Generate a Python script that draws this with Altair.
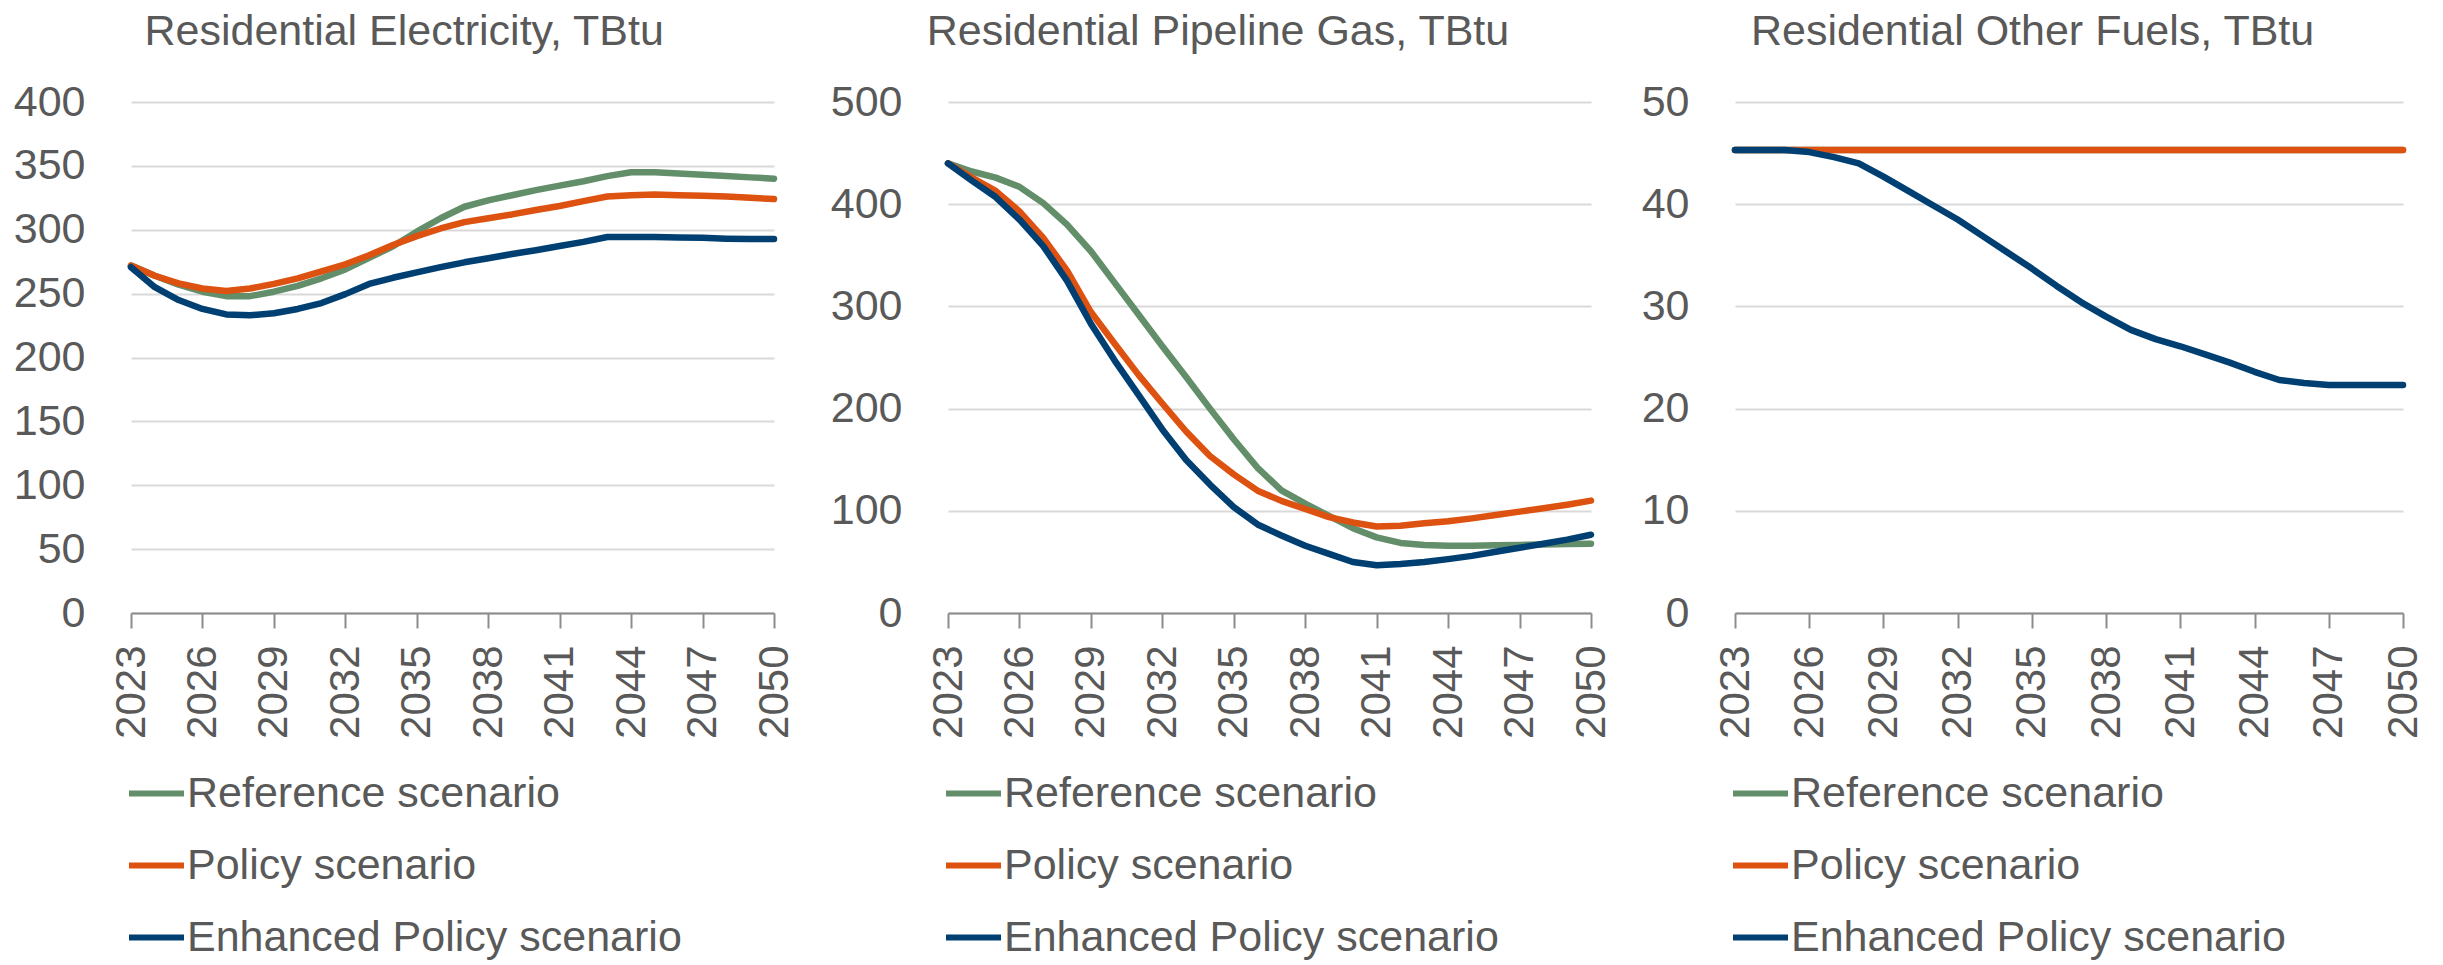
import altair as alt
import pandas as pd

FONT = "Liberation Sans"
TEXT_COLOR = "#595959"
AXIS_COLOR = "#8c8c8c"
GRID_COLOR = "#d9d9d9"

years = list(range(2023, 2051))
tick_years = [2023, 2026, 2029, 2032, 2035, 2038, 2041, 2044, 2047, 2050]
scenarios = ["Reference scenario", "Policy scenario", "Enhanced Policy scenario"]
colors = ["#638E6A", "#DD5210", "#003F72"]

titles = ["Residential Electricity, TBtu", "Residential Pipeline Gas, TBtu", "Residential Other Fuels, TBtu"]

elec_ref = [272, 264, 257, 251.5, 248, 248, 251.5, 256, 262, 269, 278, 287, 298.5, 309,
            318, 323, 327, 331, 334.5, 338, 342, 345, 345, 344, 343, 342, 341, 340]
elec_pol = [272, 264, 258, 254, 252, 254, 257.6, 262, 267.5, 273, 280, 288, 295, 301,
            306, 309, 312, 315.5, 318.6, 322.4, 326, 327, 327.5, 327, 326.6, 326, 325, 324]
elec_enh = [270.7, 255, 245, 238, 233.7, 233, 234.6, 238, 242.6, 249.6, 257.6, 262.4, 266.6, 270.7,
            274.5, 277.7, 281, 284, 287.3, 290.5, 294.3, 294.3, 294.3, 294, 293.7, 293, 292.7, 292.7]

gas_ref = [440, 432, 426, 417, 401, 380, 354, 323, 292, 261, 231, 200, 170, 142,
           120, 107, 95, 83, 74, 68.6, 66.6, 65.8, 65.8, 66.2, 66.6, 67, 67.4, 67.8]
gas_pol = [440, 426, 413, 393, 367, 335, 294.5, 263.5, 233, 205, 177.6, 153.6, 135.7, 119.7,
           109.7, 101.8, 93.8, 88.6, 84.6, 85.4, 87.8, 89.8, 92.6, 95.8, 99.2, 102.5, 106, 110]
gas_enh = [440, 423, 407, 385, 359, 325, 283, 247, 213.5, 179.6, 149.7, 125.7, 103.7, 86.6,
           75.8, 65.8, 57.9, 49.9, 46.7, 47.9, 49.9, 52.7, 55.9, 59.9, 63.8, 67.8, 71.8, 76.6]

other_ref = [45.3, 45.3, 45.3, 45.3, 45.3, 45.3, 45.3, 45.3, 45.3, 45.3, 45.3, 45.3, 45.3, 45.3,
             45.3, 45.3, 45.3, 45.3, 45.3, 45.3, 45.3, 45.3, 45.3, 45.3, 45.3, 45.3, 45.3, 45.3]
other_pol = [45.3, 45.3, 45.3, 45.3, 45.3, 45.3, 45.3, 45.3, 45.3, 45.3, 45.3, 45.3, 45.3, 45.3,
             45.3, 45.3, 45.3, 45.3, 45.3, 45.3, 45.3, 45.3, 45.3, 45.3, 45.3, 45.3, 45.3, 45.3]
other_enh = [45.3, 45.3, 45.3, 45.1, 44.6, 44.0, 42.7, 41.3, 39.9, 38.5, 36.9, 35.3, 33.7, 32.0,
             30.4, 29.0, 27.7, 26.8, 26.1, 25.3, 24.5, 23.6, 22.8, 22.5, 22.3, 22.3, 22.3, 22.3]

y_ticks_elec = [0, 50, 100, 150, 200, 250, 300, 350, 400]
y_ticks_gas = [0, 100, 200, 300, 400, 500]
y_ticks_other = [0, 10, 20, 30, 40, 50]


def make_df(series):
    rows = []
    for name, vals in zip(scenarios, series):
        for yr, v in zip(years, vals):
            rows.append({"year": yr, "value": v, "scenario": name})
    return pd.DataFrame(rows)


PLOT_H = 511


def panel(title, series, yticks, width, y_extent):
    df = make_df(series)
    color = alt.Color(
        "scenario:N",
        scale=alt.Scale(domain=scenarios, range=colors),
        legend=alt.Legend(
            title=None, orient="none", legendX=-5, legendY=PLOT_H + 150,
            direction="vertical", symbolType="stroke", symbolSize=3025,
            symbolStrokeWidth=6, labelFontSize=43, labelFont=FONT,
            labelColor=TEXT_COLOR, rowPadding=19, labelOffset=0, padding=0,
            labelLimit=800,
        ),
    )
    x = alt.X(
        "year:Q",
        scale=alt.Scale(domain=[2023, 2050], nice=False, zero=False),
        axis=alt.Axis(
            values=tick_years, format="d", labelAngle=270, title=None,
            labelFontSize=42, labelFont=FONT, labelColor=TEXT_COLOR,
            labelPadding=17, tickSize=15, tickWidth=2, tickColor=AXIS_COLOR,
            domainColor=AXIS_COLOR, domainWidth=2, grid=False,
        ),
    )
    y = alt.Y(
        "value:Q",
        scale=alt.Scale(domain=[yticks[0], yticks[-1]], nice=False),
        axis=alt.Axis(
            values=yticks, title=None, labelFontSize=43, labelFont=FONT,
            labelColor=TEXT_COLOR, labelPadding=46, ticks=False, domain=False,
            grid=True, gridColor=GRID_COLOR, gridWidth=2, minExtent=y_extent,
        ),
    )
    layers = []
    for name in scenarios:
        layers.append(
            alt.Chart(df)
            .transform_filter(alt.datum.scenario == name)
            .mark_line(strokeWidth=6.5, strokeCap="round", strokeJoin="round")
            .encode(x=x, y=y, color=color)
        )
    return alt.layer(*layers).properties(
        width=width,
        height=PLOT_H,
        title=alt.TitleParams(
            text=title, fontSize=43, font=FONT, color=TEXT_COLOR,
            fontWeight="normal", anchor="middle", frame="bounds", offset=27,
        ),
    )


p1 = panel(titles[0], [elec_ref, elec_pol, elec_enh], y_ticks_elec, 643, 0)
p2 = panel(titles[1], [gas_ref, gas_pol, gas_enh], y_ticks_gas, 643, 124)
p3 = panel(titles[2], [other_ref, other_pol, other_enh], y_ticks_other, 668, 0)

chart = (
    alt.hconcat(p1, p2, p3, spacing=27)
    .resolve_legend(color="independent")
    .properties(padding={"left": 4, "top": 2, "right": 0, "bottom": 0}, background="white")
    .configure_view(stroke="transparent")
)

chart.save("out.html", embed_options={"renderer": "svg", "actions": False})
